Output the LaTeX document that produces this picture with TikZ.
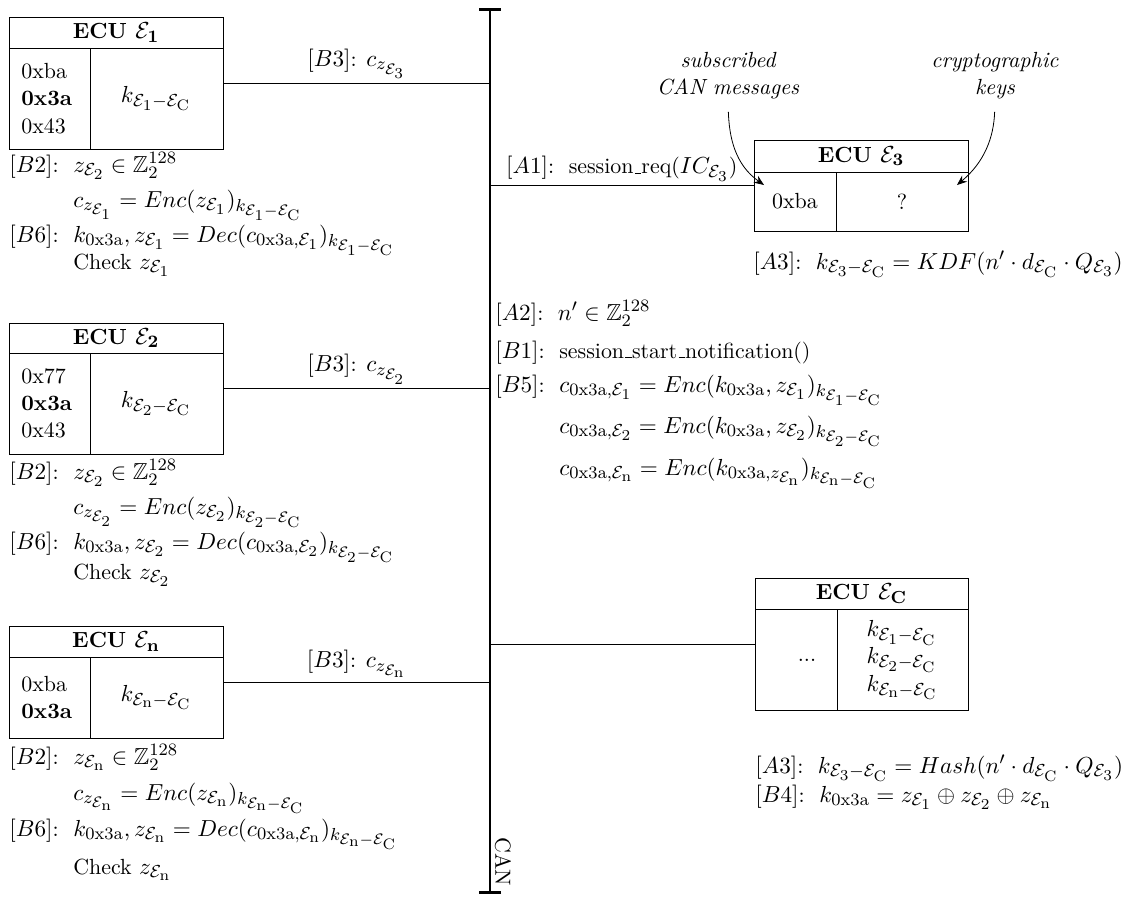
\RequirePackage{fix-cm}
\documentclass[tikz,border=0pt,11pt]{standalone}
\usepackage{amsmath,amssymb}
\usetikzlibrary{arrows.meta,fit}
\DeclareMathSizes{11.6}{11.6}{8.7}{7.6}
\newcommand{\mth}[1]{{\fontsize{11.6}{14}\selectfont$#1$}}
\newcommand{\ecal}[1]{\mathcal{E}_{#1}}
\newcommand{\ecalr}[1]{\mathcal{E}_{\mathrm{#1}}}
\newcommand{\hx}{\mathrm{0x3a}}
\newcommand{\us}{\leavevmode\kern.06em\vbox{\hrule width.3em}}
\begin{document}
\begin{tikzpicture}[x=0.5pt, y=-0.5pt,
  ecubox/.style={draw, inner sep=0pt},
  ecutitle/.style={font=\bfseries, inner sep=0pt},
  cell/.style={align=left, inner sep=0pt},
  txt/.style={anchor=base west, inner sep=0pt},
  bus/.style={line width=1.4pt},
  annot/.style={font=\itshape, align=center, inner sep=1pt},
  pointer/.style={-{Stealth[length=5pt, width=4pt]}, line width=0.4pt, shorten <=5pt},
  lab/.style={midway, above, inner sep=2pt}
]
\useasboundingbox (0,0) rectangle (1126,896);

% CAN bus
\coordinate (bustop) at (490,8);
\coordinate (busbot) at (490,894);
\draw[bus, {Bar[width=11pt]}-{Bar[width=11pt]}] (bustop) -- (busbot);
\node[rotate=-90, inner sep=0pt] (canlbl) at (503,862) {CAN};

% ECU 1
\node[ecubox, fit={(9,17)(223,149)}] (e1) {};
\draw (9,48) -- (223,48);
\draw (90,48) -- (90,149);
\node[ecutitle] (e1t) at (116,32.5) {ECU \mth{\ecal{\mathbf{1}}}};
\node[cell, anchor=west] (e1ids) at (21,98.5) {0xba\\\textbf{0x3a}\\0x43};
\node[inner sep=0pt] (e1k) at (156,98.5) {\mth{k_{\ecal{1}-\ecalr{C}}}};
\draw (e1.east) -- (e1.east -| bustop) node[lab] (e1lab) {\mth{[B3]}: \mth{c_{z_{\ecal{3}}}}};
\node[txt] (e1b2) at (9,172) {\mth{[B2]}:~~\mth{z_{\ecal{2}} \in \mathbb{Z}_2^{128}}};
\node[txt] (e1c) at (9,207) {\phantom{\mth{[B2]}:~~}\mth{c_{z_{\ecal{1}}} = Enc(z_{\ecal{1}})_{k_{\ecal{1}-\ecalr{C}}}}};
\node[txt] (e1b6) at (9,242) {\mth{[B6]}:~~\mth{k_{\hx}, z_{\ecal{1}} = Dec(c_{\hx,\ecal{1}})_{k_{\ecal{1}-\ecalr{C}}}}};
\node[txt] (e1chk) at (9,269) {\phantom{\mth{[B6]}:~~}Check \mth{z_{\ecal{1}}}};

% ECU 2
\node[ecubox, fit={(9,323)(223,454)}] (e2) {};
\draw (9,353) -- (223,353);
\draw (90,353) -- (90,454);
\node[ecutitle] (e2t) at (116,338) {ECU \mth{\ecal{\mathbf{2}}}};
\node[cell, anchor=west] (e2ids) at (21,403.5) {0x77\\\textbf{0x3a}\\0x43};
\node[inner sep=0pt] (e2k) at (156,403.5) {\mth{k_{\ecal{2}-\ecalr{C}}}};
\draw (e2.east) -- (e2.east -| bustop) node[lab] (e2lab) {\mth{[B3]}: \mth{c_{z_{\ecal{2}}}}};
\node[txt] (e2b2) at (9,479) {\mth{[B2]}:~~\mth{z_{\ecal{2}} \in \mathbb{Z}_2^{128}}};
\node[txt] (e2c) at (9,514) {\phantom{\mth{[B2]}:~~}\mth{c_{z_{\ecal{2}}} = Enc(z_{\ecal{2}})_{k_{\ecal{2}-\ecalr{C}}}}};
\node[txt] (e2b6) at (9,549) {\mth{[B6]}:~~\mth{k_{\hx}, z_{\ecal{2}} = Dec(c_{\hx,\ecal{2}})_{k_{\ecal{2}-\ecalr{C}}}}};
\node[txt] (e2chk) at (9,579) {\phantom{\mth{[B6]}:~~}Check \mth{z_{\ecal{2}}}};

% ECU n
\node[ecubox, fit={(9,626)(223,738)}] (en) {};
\draw (9,657) -- (223,657);
\draw (90,657) -- (90,738);
\node[ecutitle] (ent) at (116,641.5) {ECU \mth{\ecal{\mathbf{n}}}};
\node[cell, anchor=west] (enids) at (21,697.5) {0xba\\\textbf{0x3a}};
\node[inner sep=0pt] (enk) at (156,697.5) {\mth{k_{\ecalr{n}-\ecalr{C}}}};
\draw (en.east) -- (en.east -| bustop) node[lab] (enlab) {\mth{[B3]}: \mth{c_{z_{\ecalr{n}}}}};
\node[txt] (enb2) at (9,764) {\mth{[B2]}:~~\mth{z_{\ecalr{n}} \in \mathbb{Z}_2^{128}}};
\node[txt] (enc) at (9,800) {\phantom{\mth{[B2]}:~~}\mth{c_{z_{\ecalr{n}}} = Enc(z_{\ecalr{n}})_{k_{\ecalr{n}-\ecalr{C}}}}};
\node[txt] (enb6) at (9,836) {\mth{[B6]}:~~\mth{k_{\hx}, z_{\ecalr{n}} = Dec(c_{\hx,\ecalr{n}})_{k_{\ecalr{n}-\ecalr{C}}}}};
\node[txt] (enchk) at (9,874) {\phantom{\mth{[B6]}:~~}Check \mth{z_{\ecalr{n}}}};

% ECU 3
\node[ecubox, fit={(754,140)(968,231)}] (e3) {};
\draw (754,172) -- (968,172);
\draw (836,172) -- (836,231);
\node[ecutitle] (e3t) at (861,156) {ECU \mth{\ecal{\mathbf{3}}}};
\node[inner sep=0pt] (e3id) at (795,201.5) {0xba};
\node[inner sep=0pt] (e3k) at (902,201.5) {?};
\draw (e3.west -| bustop) -- (e3.west) node[lab] (a1lab) {\mth{[A1]}:~~session\us req(\mth{IC_{\ecal{3}}})};
\node[txt] (e3a3) at (753,269) {\mth{[A3]}:~~\mth{k_{\ecal{3}-\ecalr{C}} = KDF(n' \cdot d_{\ecalr{C}} \cdot Q_{\ecal{3}})}};

% annotations
\node[annot] (ann1) at (728,76) {subscribed\\CAN messages};
\node[annot] (ann2) at (995,76) {cryptographic\\keys};
\coordinate (sub) at (764,185);
\coordinate (key) at (957,185);
\draw[pointer] (ann1.south) to[out=-88, in=145] (sub);
\draw[pointer] (ann2.south) to[out=-92, in=40] (key);

% middle texts
\node[txt] (a2) at (495,320) {\mth{[A2]}:~~\mth{n' \in \mathbb{Z}_2^{128}}};
\node[txt] (b1) at (495,358) {\mth{[B1]}:~~session\us start\us notification()};
\node[txt] (b5a) at (495,392) {\mth{[B5]}:~~\mth{c_{\hx,\ecal{1}} = Enc(k_{\hx}, z_{\ecal{1}})_{k_{\ecal{1}-\ecalr{C}}}}};
\node[txt] (b5b) at (495,433) {\phantom{\mth{[B5]}:~~}\mth{c_{\hx,\ecal{2}} = Enc(k_{\hx}, z_{\ecal{2}})_{k_{\ecal{2}-\ecalr{C}}}}};
\node[txt] (b5c) at (495,475) {\phantom{\mth{[B5]}:~~}\mth{c_{\hx,\ecalr{n}} = Enc(k_{\hx,z_{\ecalr{n}}})_{k_{\ecalr{n}-\ecalr{C}}}}};

% ECU C
\node[ecubox, fit={(755,578)(968,710)}] (ec) {};
\draw (755,609) -- (968,609);
\draw (837,609) -- (837,710);
\node[ecutitle] (ect) at (861.5,593.5) {ECU \mth{\ecal{\mathbf{C}}}};
\node[inner sep=0pt] (ecid) at (807,660) {...};
\node[cell] (eck) at (902,660) {\mth{k_{\ecal{1}-\ecalr{C}}}\\\mth{k_{\ecal{2}-\ecalr{C}}}\\\mth{k_{\ecalr{n}-\ecalr{C}}}};
\draw (ec.west -| bustop) -- (ec.west);
\node[txt] (eca3) at (755,773) {\mth{[A3]}:~~\mth{k_{\ecal{3}-\ecalr{C}} = Hash(n' \cdot d_{\ecalr{C}} \cdot Q_{\ecal{3}})}};
\node[txt] (ecb4) at (755,802) {\mth{[B4]}:~~\mth{k_{\hx} = z_{\ecal{1}} \oplus z_{\ecal{2}} \oplus z_{\ecalr{n}}}};
\end{tikzpicture}
\end{document}
